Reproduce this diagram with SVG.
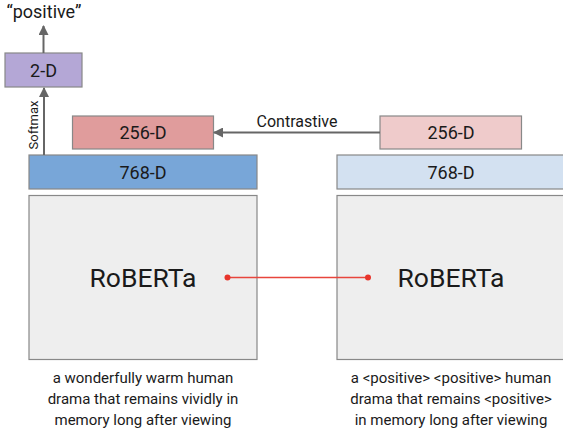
<svg xmlns="http://www.w3.org/2000/svg" width="563" height="432" viewBox="0 0 563 432">
<style>
text{font-family:Roboto,"Liberation Sans",sans-serif;fill:#1a1a1a}
.box{stroke:#888;stroke-width:1.2}
.lbl{font-size:18px;text-anchor:middle}
.big{font-size:26.5px;text-anchor:middle}
.cap{font-size:15px;text-anchor:middle}
.sm{font-size:13px}
.arr{stroke:#666;stroke-width:2;fill:none}
</style>
<defs>
<marker id="ah" markerWidth="10" markerHeight="10" refX="9" refY="5" orient="auto" markerUnits="userSpaceOnUse">
<path d="M0,0 L10,5 L0,10 Z" fill="#666"/>
</marker>
</defs>
<rect width="563" height="432" fill="#fff"/>
<g id="out-label"><text x="44" y="18" font-size="18" text-anchor="middle">“positive”</text></g>
<g id="n2d"><rect class="box" x="5" y="53" width="77" height="34" fill="#b4a7d6"/><text class="lbl" x="43.5" y="76.5">2-D</text></g>
<g id="n256L"><rect class="box" x="72.5" y="116" width="141" height="33" fill="#e09c9c"/><text class="lbl" x="143" y="139">256-D</text></g>
<g id="n768L"><rect class="box" x="29" y="155" width="228" height="34" fill="#78a6d8"/><text class="lbl" x="143" y="178.5">768-D</text></g>
<g id="robL"><rect class="box" x="29" y="195.5" width="228" height="164" fill="#eeeeee"/><text class="big" x="143" y="287">RoBERTa</text></g>
<g id="n256R"><rect class="box" x="380" y="116" width="141.5" height="33" fill="#efcbcb"/><text class="lbl" x="451" y="139">256-D</text></g>
<g id="n768R"><rect class="box" x="337" y="155" width="230" height="34" fill="#d3e1f1"/><text class="lbl" x="451" y="178.5">768-D</text></g>
<g id="robR"><rect class="box" x="337" y="195.5" width="230" height="164" fill="#eeeeee"/><text class="big" x="451" y="287">RoBERTa</text></g>
<g id="capL"><text class="cap" x="143" y="383">a wonderfully warm human</text><text class="cap" x="143" y="404">drama that remains vividly in</text><text class="cap" x="143" y="425">memory long after viewing</text></g>
<g id="capR"><text class="cap" x="451" y="383">a &lt;positive&gt; &lt;positive&gt; human</text><text class="cap" x="451" y="404">drama that remains &lt;positive&gt;</text><text class="cap" x="451" y="425">in memory long after viewing</text></g>
<g id="connectors">
<line class="arr" x1="43.5" y1="53" x2="43.5" y2="26" marker-end="url(#ah)"/>
<line class="arr" x1="44" y1="155" x2="44" y2="88" marker-end="url(#ah)"/>
<text class="sm" transform="translate(38,125) rotate(-90)" text-anchor="middle">Softmax</text>
<line class="arr" x1="380" y1="132.5" x2="214" y2="132.5" marker-end="url(#ah)"/>
<text x="297" y="127" font-size="16" text-anchor="middle">Contrastive</text>
<line x1="227.5" y1="277.5" x2="368" y2="277.5" stroke="#e8453c" stroke-width="1.5"/>
<circle cx="227.5" cy="277.5" r="3" fill="#e8352c"/>
<circle cx="368" cy="277.5" r="3" fill="#e8352c"/>
</g>
</svg>
